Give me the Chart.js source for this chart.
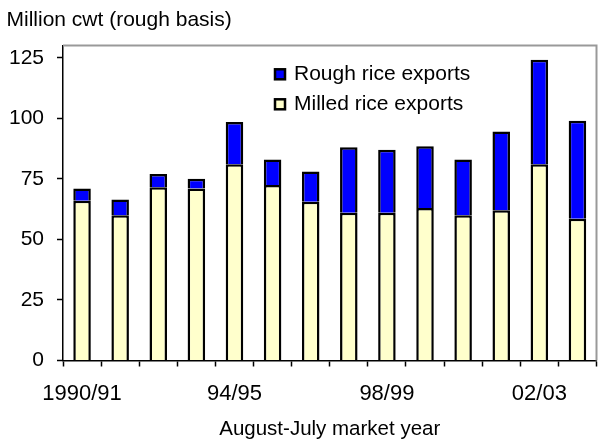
<!DOCTYPE html>
<html lang="en">
<head>
    <meta charset="UTF-8">
    <title>U.S. rice exports</title>
    <script src="https://cdn.jsdelivr.net/npm/chart.js@4"></script>
    <style>
        html, body { margin: 0; padding: 0; background: #fff; }
        #wrap { width: 599px; height: 440px; }
    </style>
</head>
<body>
    <div id="wrap"><canvas id="riceChart" width="599" height="440"></canvas></div>
    <script>
        // August-July market years
        const years = ['1990/91', '91/92', '92/93', '93/94', '94/95', '95/96', '96/97',
                       '97/98', '98/99', '99/00', '00/01', '01/02', '02/03', '03/04'];
        // million cwt, rough basis
        const milledExports = [66, 60, 71.5, 71, 81, 72.5, 65.5, 61, 61, 63, 60, 62, 81, 58.5];
        const roughExports  = [5, 6.5, 5.5, 4, 17.5, 10.5, 12.5, 27, 26, 25.5, 23, 32.5, 43.2, 40.5];
        const yTicks = [0, 25, 50, 75, 100, 125];

        const FONT = 'Liberation Sans, Arial, sans-serif';

        // gray frame along the top and right of the plot
        const framePlugin = {
            id: 'frame',
            beforeDatasetsDraw(chart) {
                const { ctx, chartArea: a } = chart;
                ctx.save();
                ctx.strokeStyle = '#999';
                ctx.lineWidth = 2;
                ctx.beginPath();
                ctx.moveTo(a.left, a.top);
                ctx.lineTo(a.right, a.top);
                ctx.lineTo(a.right, a.bottom);
                ctx.stroke();
                ctx.restore();
            }
        };

        // stacked legend inside the plot, top series first
        const boxLegend = {
            id: 'boxLegend',
            afterDraw(chart) {
                const { ctx, chartArea: a } = chart;
                const sets = chart.data.datasets.slice().reverse();
                ctx.save();
                ctx.font = '21px ' + FONT;
                ctx.textBaseline = 'middle';
                sets.forEach((ds, i) => {
                    const x = a.left + 212;
                    const y = a.top + 28.7 + i * 30;
                    ctx.fillStyle = ds.backgroundColor;
                    ctx.fillRect(x, y - 5, 10, 10);
                    ctx.strokeStyle = '#000';
                    ctx.lineWidth = 2.5;
                    ctx.strokeRect(x, y - 5, 10, 10);
                    ctx.fillStyle = '#000';
                    ctx.fillText(ds.label, x + 19, y);
                });
                ctx.restore();
            }
        };

        const ctx = document.getElementById('riceChart').getContext('2d');
        new Chart(ctx, {
            type: 'bar',
            data: {
                labels: years,
                datasets: [{
                    label: 'Milled rice exports',
                    data: milledExports,
                    backgroundColor: '#FFFFCC',
                    borderColor: '#000',
                    borderWidth: 2.5
                }, {
                    label: 'Rough rice exports',
                    data: roughExports,
                    backgroundColor: '#0000FF',
                    borderColor: '#000',
                    borderWidth: 2.5
                }]
            },
            options: {
                responsive: false,
                animation: false,
                layout: { padding: { left: 6.5, right: 2.5, top: 0, bottom: 0 } },
                datasets: {
                    bar: { categoryPercentage: 1, barPercentage: 0.46 }
                },
                plugins: {
                    legend: { display: false },
                    tooltip: { enabled: false },
                    title: {
                        display: true,
                        text: 'Million cwt (rough basis)',
                        align: 'start',
                        color: '#000',
                        font: { family: FONT, size: 21, weight: 'normal', lineHeight: 1.2 },
                        padding: { top: 8, bottom: 12.4 }
                    }
                },
                scales: {
                    x: {
                        stacked: true,
                        grid: {
                            offset: true,
                            drawOnChartArea: false,
                            drawTicks: true,
                            tickLength: 6,
                            tickWidth: 1.5,
                            tickColor: '#000'
                        },
                        border: { display: true, color: '#000', width: 1.5 },
                        ticks: {
                            color: '#000',
                            font: { family: FONT, size: 22 },
                            padding: 14.2,
                            maxRotation: 0,
                            autoSkip: false,
                            callback: function(value, index) {
                                return index % 4 === 0 ? years[index] : '';
                            }
                        },
                        title: {
                            display: true,
                            text: 'August-July market year',
                            color: '#000',
                            font: { family: FONT, size: 20.5, lineHeight: 1 },
                            padding: { top: 0, bottom: 0 }
                        },
                        afterFit(scale) { scale.height = 79.5; }
                    },
                    y: {
                        stacked: true,
                        min: 0,
                        max: 130,
                        grid: {
                            drawOnChartArea: false,
                            drawTicks: true,
                            tickLength: 6,
                            tickWidth: 1.5,
                            tickColor: '#000'
                        },
                        border: { display: true, color: '#000', width: 1.5 },
                        ticks: {
                            color: '#000',
                            font: { family: FONT, size: 21 },
                            padding: 13
                        },
                        afterBuildTicks(scale) {
                            scale.ticks = yTicks.map(v => ({ value: v }));
                        },
                        afterFit(scale) { scale.width = 56.5; }
                    }
                }
            },
            plugins: [framePlugin, boxLegend]
        });
    </script>
</body>
</html>
